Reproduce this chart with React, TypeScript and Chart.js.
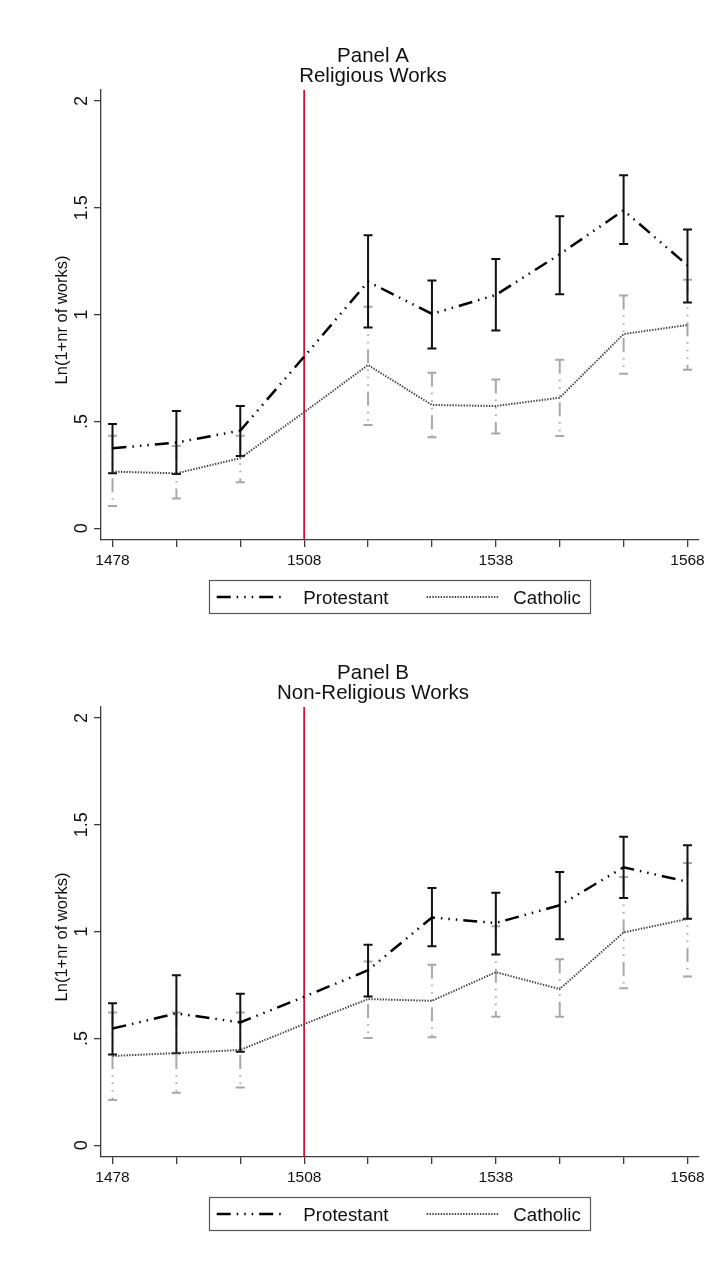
import React, { useEffect, useRef } from "react";
import { Chart, registerables } from "chart.js";

Chart.register(...registerables);

// ---------- data ----------
const years = [1478, 1488, 1498, 1508, 1518, 1528, 1538, 1548, 1558, 1568];
const labeledYears = [1478, 1508, 1538, 1568];
const yTickValues = [0, 0.5, 1, 1.5, 2];
const yTickLabels = ["0", ".5", "1", "1.5", "2"];
const treatmentYear = 1508;
const seriesNames = ["Protestant", "Catholic"];
const yAxisTitle = "Ln(1+nr of works)";
const titleA = ["Panel A", "Religious Works"];
const titleB = ["Panel B", "Non-Religious Works"];

// Panel A: religious works
const protestantA = [0.374, 0.401, 0.457, 0.803, 1.154, 1.003, 1.092, 1.282, 1.488, 1.23];
const protestantALo = [0.257, 0.254, 0.338, null, 0.939, 0.841, 0.926, 1.095, 1.33, 1.056];
const protestantAHi = [0.488, 0.549, 0.572, null, 1.371, 1.16, 1.26, 1.46, 1.652, 1.398];
const catholicA = [0.265, 0.257, 0.328, 0.543, 0.764, 0.577, 0.572, 0.611, 0.909, 0.951];
const catholicALo = [0.104, 0.139, 0.215, null, 0.483, 0.426, 0.444, 0.432, 0.723, 0.742];
const catholicAHi = [0.433, 0.385, 0.433, null, 1.037, 0.728, 0.696, 0.788, 1.089, 1.163];

// Panel B: non-religious works
const protestantB = [0.546, 0.617, 0.575, 0.695, 0.819, 1.066, 1.04, 1.123, 1.301, 1.233];
const protestantBLo = [0.425, 0.431, 0.437, null, 0.696, 0.931, 0.893, 0.964, 1.157, 1.06];
const protestantBHi = [0.664, 0.796, 0.709, null, 0.938, 1.204, 1.182, 1.279, 1.444, 1.404];
const catholicB = [0.418, 0.431, 0.446, 0.567, 0.684, 0.676, 0.81, 0.731, 0.996, 1.059];
const catholicBLo = [0.212, 0.246, 0.27, null, 0.502, 0.506, 0.601, 0.601, 0.735, 0.79];
const catholicBHi = [0.621, 0.621, 0.621, null, 0.86, 0.845, 1.025, 0.87, 1.255, 1.321];

// ---------- style ----------
const FONT = "'Liberation Sans', Arial, Helvetica, sans-serif";
const RED = "rgb(208,18,58)";
const AXIS = "#3c3c3c";
const PROT_DASH = [14, 6, 1.5, 6, 1.5, 6, 1.5, 6];
const CAT_DASH = [1.4, 1.4];
const CAT_LINE = "#444";
const CI_GRAY = "#a8a8a8";
const W = 722;
const H = 617;

Chart.defaults.font.family = FONT;

type Arr = (number | null)[];

interface PanelProps {
  title: string[];
  prot: number[];
  protLo: Arr;
  protHi: Arr;
  cat: number[];
  catLo: Arr;
  catHi: Arr;
}

function Panel(props: PanelProps) {
  const ref = useRef<HTMLCanvasElement>(null);

  useEffect(() => {
    const canvas = ref.current;
    if (!canvas) return;
    const { title, prot, protLo, protHi, cat, catLo, catHi } = props;

    const drawBars = (chart: any, lo: Arr, hi: Arr, color: string, dash: number[]) => {
      const { ctx, scales } = chart;
      const xs = scales.x;
      const ys = scales.y;
      ctx.strokeStyle = color;
      ctx.lineWidth = 2;
      ctx.lineCap = "butt";
      for (let i = 0; i < years.length; i++) {
        const l = lo[i];
        const h = hi[i];
        if (l == null || h == null) continue;
        const x = xs.getPixelForValue(years[i]);
        const yl = ys.getPixelForValue(l);
        const yh = ys.getPixelForValue(h);
        ctx.setLineDash(dash);
        ctx.beginPath();
        ctx.moveTo(x, yh);
        ctx.lineTo(x, yl);
        ctx.stroke();
        ctx.setLineDash([]);
        ctx.beginPath();
        ctx.moveTo(x - 4.5, yh);
        ctx.lineTo(x + 4.5, yh);
        ctx.moveTo(x - 4.5, yl);
        ctx.lineTo(x + 4.5, yl);
        ctx.stroke();
      }
    };

    const overlay = {
      id: "overlay",
      beforeDatasetsDraw(chart: any) {
        const { ctx, chartArea, scales } = chart;
        ctx.save();
        const xr = scales.x.getPixelForValue(treatmentYear);
        ctx.strokeStyle = RED;
        ctx.lineWidth = 1.8;
        ctx.setLineDash([]);
        ctx.beginPath();
        ctx.moveTo(xr, chartArea.top);
        ctx.lineTo(xr, chartArea.bottom);
        ctx.stroke();
        drawBars(chart, catLo, catHi, CI_GRAY, PROT_DASH);
        drawBars(chart, protLo, protHi, "#111", []);
        ctx.restore();
      },
      afterDraw(chart: any) {
        const { ctx, scales } = chart;
        const ys = scales.y;
        ctx.save();
        ctx.fillStyle = "#111";
        // title
        ctx.font = `20.5px ${FONT}`;
        ctx.textAlign = "center";
        ctx.textBaseline = "alphabetic";
        ctx.fillText(title[0], 373, 61.7);
        ctx.fillText(title[1], 373, 81.7);
        // y tick labels (rotated)
        ctx.font = `18px ${FONT}`;
        for (let i = 0; i < yTickValues.length; i++) {
          const y = ys.getPixelForValue(yTickValues[i]);
          ctx.save();
          ctx.translate(86.5, y);
          ctx.rotate(-Math.PI / 2);
          ctx.textAlign = "center";
          ctx.fillText(yTickLabels[i], 0, 0);
          ctx.restore();
        }
        // y axis title
        ctx.font = `16.5px ${FONT}`;
        ctx.save();
        ctx.translate(66.5, 320);
        ctx.rotate(-Math.PI / 2);
        ctx.textAlign = "center";
        ctx.fillText(yAxisTitle, 0, 0);
        ctx.restore();
        // legend
        ctx.strokeStyle = "#555";
        ctx.lineWidth = 1.2;
        ctx.setLineDash([]);
        ctx.strokeRect(209.5, 580.5, 381, 33);
        ctx.strokeStyle = "#000";
        ctx.lineWidth = 2.5;
        ctx.setLineDash(PROT_DASH);
        ctx.beginPath();
        ctx.moveTo(216.7, 597);
        ctx.lineTo(281.7, 597);
        ctx.stroke();
        ctx.strokeStyle = CAT_LINE;
        ctx.lineWidth = 2;
        ctx.setLineDash(CAT_DASH);
        ctx.beginPath();
        ctx.moveTo(426.7, 597);
        ctx.lineTo(498.3, 597);
        ctx.stroke();
        ctx.setLineDash([]);
        ctx.font = `18.7px ${FONT}`;
        ctx.textAlign = "left";
        ctx.fillStyle = "#111";
        ctx.fillText(seriesNames[0], 303.3, 604);
        ctx.fillText(seriesNames[1], 513.3, 604);
        ctx.restore();
      },
    };

    const chart = new Chart(canvas, {
      type: "line",
      data: {
        datasets: [
          {
            label: seriesNames[0],
            data: years.map((x, i) => ({ x, y: prot[i] })),
            borderColor: "#000",
            borderWidth: 2.5,
            borderDash: PROT_DASH,
            pointRadius: 0,
            tension: 0,
            fill: false,
          },
          {
            label: seriesNames[1],
            data: years.map((x, i) => ({ x, y: cat[i] })),
            borderColor: CAT_LINE,
            borderWidth: 2,
            borderDash: CAT_DASH,
            pointRadius: 0,
            tension: 0,
            fill: false,
          },
        ],
      },
      options: {
        responsive: false,
        animation: false,
        devicePixelRatio: 1,
        layout: { padding: { top: 90, right: W - 699, bottom: H - 540 - 30, left: 0 } },
        plugins: {
          legend: { display: false },
          title: { display: false },
          tooltip: { enabled: false },
        },
        scales: {
          x: {
            type: "linear",
            position: "bottom",
            min: 1476.2,
            max: 1569.8,
            afterBuildTicks: (scale: any) => {
              scale.ticks = years.map((v) => ({ value: v }));
            },
            afterFit: (scale: any) => {
              scale.height = 30;
            },
            ticks: {
              autoSkip: false,
              maxRotation: 0,
              minRotation: 0,
              padding: 4,
              color: "#111",
              font: { family: FONT, size: 15.5 },
              callback: (v: any) => (labeledYears.includes(Number(v)) ? String(v) : ""),
            },
            grid: {
              drawOnChartArea: false,
              drawTicks: true,
              tickLength: 7,
              color: AXIS,
              lineWidth: 1.3,
            },
            border: { display: true, color: AXIS, width: 1.3 },
          },
          y: {
            type: "linear",
            position: "left",
            min: -0.055,
            max: 2.051,
            afterBuildTicks: (scale: any) => {
              scale.ticks = yTickValues.map((v) => ({ value: v }));
            },
            afterFit: (scale: any) => {
              scale.width = 101;
            },
            ticks: { display: false },
            grid: {
              drawOnChartArea: false,
              drawTicks: true,
              tickLength: 7,
              color: AXIS,
              lineWidth: 1.3,
            },
            border: { display: true, color: AXIS, width: 1.3 },
          },
        },
      } as any,
      plugins: [overlay],
    });

    return () => chart.destroy();
  }, []);

  return (
    <canvas
      ref={ref}
      width={W}
      height={H}
      style={{ display: "block", width: W, height: H }}
    />
  );
}

export default function App() {
  useEffect(() => {
    document.body.style.margin = "0";
    document.body.style.background = "#fff";
  }, []);
  return (
    <div style={{ position: "absolute", left: 0, top: 0, width: W, background: "#fff" }}>
      <Panel
        title={titleA}
        prot={protestantA}
        protLo={protestantALo}
        protHi={protestantAHi}
        cat={catholicA}
        catLo={catholicALo}
        catHi={catholicAHi}
      />
      <Panel
        title={titleB}
        prot={protestantB}
        protLo={protestantBLo}
        protHi={protestantBHi}
        cat={catholicB}
        catLo={catholicBLo}
        catHi={catholicBHi}
      />
    </div>
  );
}
